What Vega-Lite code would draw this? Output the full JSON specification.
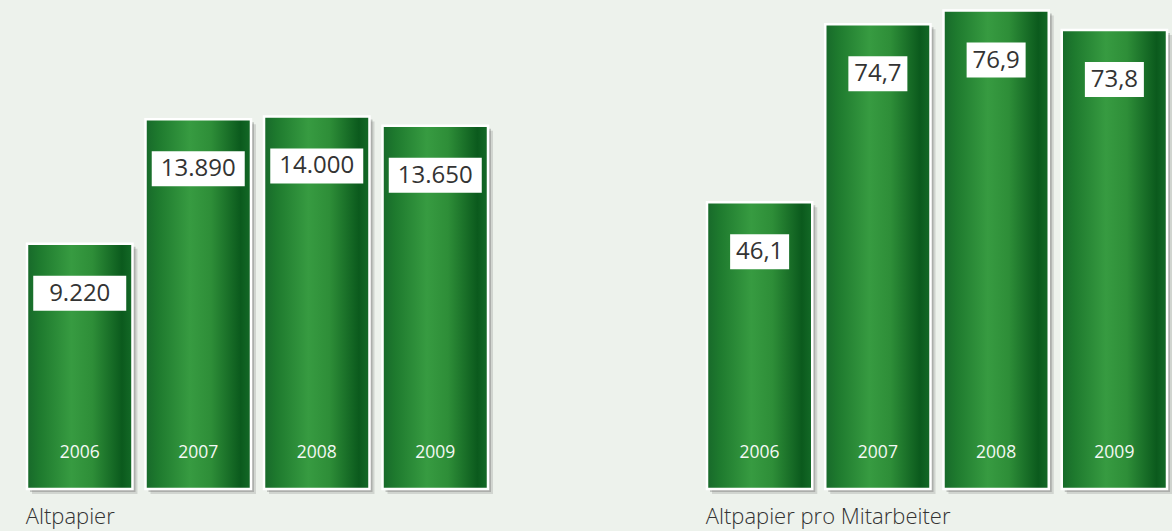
{
  "$schema": "https://vega.github.io/schema/vega-lite/v6.json",
  "background": "#edf2ec",
  "padding": {"left": 25, "top": 9, "right": 0, "bottom": 6},
  "spacing": 212,
  "config": {
    "view": {"stroke": null},
    "font": "Open Sans",
    "title": {"orient": "bottom", "anchor": "start", "fontSize": 22, "fontWeight": 300, "color": "#333333", "offset": 13, "font": "Open Sans"}
  },
  "hconcat": [
    {
      "title": "Altpapier",
      "width": 461,
      "height": 479,
      "data": {"values": [
        {"year": "2006", "value": 9220, "label": "9.220"},
        {"year": "2007", "value": 13890, "label": "13.890"},
        {"year": "2008", "value": 14000, "label": "14.000"},
        {"year": "2009", "value": 13650, "label": "13.650"}
      ]},
      "encoding": {
        "x": {"field": "year", "type": "nominal", "axis": null, "scale": {"paddingInner": 0.11, "paddingOuter": 0}},
        "y": {"field": "value", "type": "quantitative", "axis": null, "scale": {"domain": [0, 18000]}}
      },
      "layer": [
        {"mark": {"type": "bar", "fill": "#555555", "opacity": 0.18, "xOffset": 5, "yOffset": 5, "y2Offset": 6}},
        {"mark": {"type": "bar", "fill": "#555555", "opacity": 0.3, "xOffset": 3, "yOffset": 3, "y2Offset": 3}},
        {"mark": {"type": "bar", "stroke": "white", "strokeWidth": 2.5,
          "fill": {"gradient": "linear", "x1": 0, "x2": 1, "y1": 0, "y2": 0,
            "stops": [
              {"offset": 0, "color": "#17692a"},
              {"offset": 0.12, "color": "#1e7a2e"},
              {"offset": 0.42, "color": "#379b41"},
              {"offset": 0.62, "color": "#2e8e38"},
              {"offset": 0.9, "color": "#0b5a1d"},
              {"offset": 1, "color": "#146a27"}
            ]}}},
        {"mark": {"type": "bar", "fill": "white", "width": 93, "yOffset": 32, "y2Offset": 67},
         "encoding": {"y2": {"field": "value"}}},
        {"mark": {"type": "text", "fontSize": 24, "color": "#333333", "baseline": "middle", "dy": 50},
         "encoding": {"text": {"field": "label"}}},
        {"mark": {"type": "text", "fontSize": 17.5, "color": "#f4f8f4", "baseline": "middle", "dy": -36},
         "encoding": {"y": {"datum": 0}, "text": {"field": "year"}}}
      ]
    },
    {
      "title": "Altpapier pro Mitarbeiter",
      "width": 460,
      "height": 479,
      "data": {"values": [
        {"year": "2006", "value": 46.1, "label": "46,1"},
        {"year": "2007", "value": 74.7, "label": "74,7"},
        {"year": "2008", "value": 76.9, "label": "76,9"},
        {"year": "2009", "value": 73.8, "label": "73,8"}
      ]},
      "encoding": {
        "x": {"field": "year", "type": "nominal", "axis": null, "scale": {"paddingInner": 0.11, "paddingOuter": 0}},
        "y": {"field": "value", "type": "quantitative", "axis": null, "scale": {"domain": [0, 77]}}
      },
      "layer": [
        {"mark": {"type": "bar", "fill": "#555555", "opacity": 0.18, "xOffset": 5, "yOffset": 5, "y2Offset": 6}},
        {"mark": {"type": "bar", "fill": "#555555", "opacity": 0.3, "xOffset": 3, "yOffset": 3, "y2Offset": 3}},
        {"mark": {"type": "bar", "stroke": "white", "strokeWidth": 2.5,
          "fill": {"gradient": "linear", "x1": 0, "x2": 1, "y1": 0, "y2": 0,
            "stops": [
              {"offset": 0, "color": "#17692a"},
              {"offset": 0.12, "color": "#1e7a2e"},
              {"offset": 0.42, "color": "#379b41"},
              {"offset": 0.62, "color": "#2e8e38"},
              {"offset": 0.9, "color": "#0b5a1d"},
              {"offset": 1, "color": "#146a27"}
            ]}}},
        {"mark": {"type": "bar", "fill": "white", "width": 59, "yOffset": 32, "y2Offset": 67},
         "encoding": {"y2": {"field": "value"}}},
        {"mark": {"type": "text", "fontSize": 24, "color": "#333333", "baseline": "middle", "dy": 50},
         "encoding": {"text": {"field": "label"}}},
        {"mark": {"type": "text", "fontSize": 17.5, "color": "#f4f8f4", "baseline": "middle", "dy": -36},
         "encoding": {"y": {"datum": 0}, "text": {"field": "year"}}}
      ]
    }
  ]
}
